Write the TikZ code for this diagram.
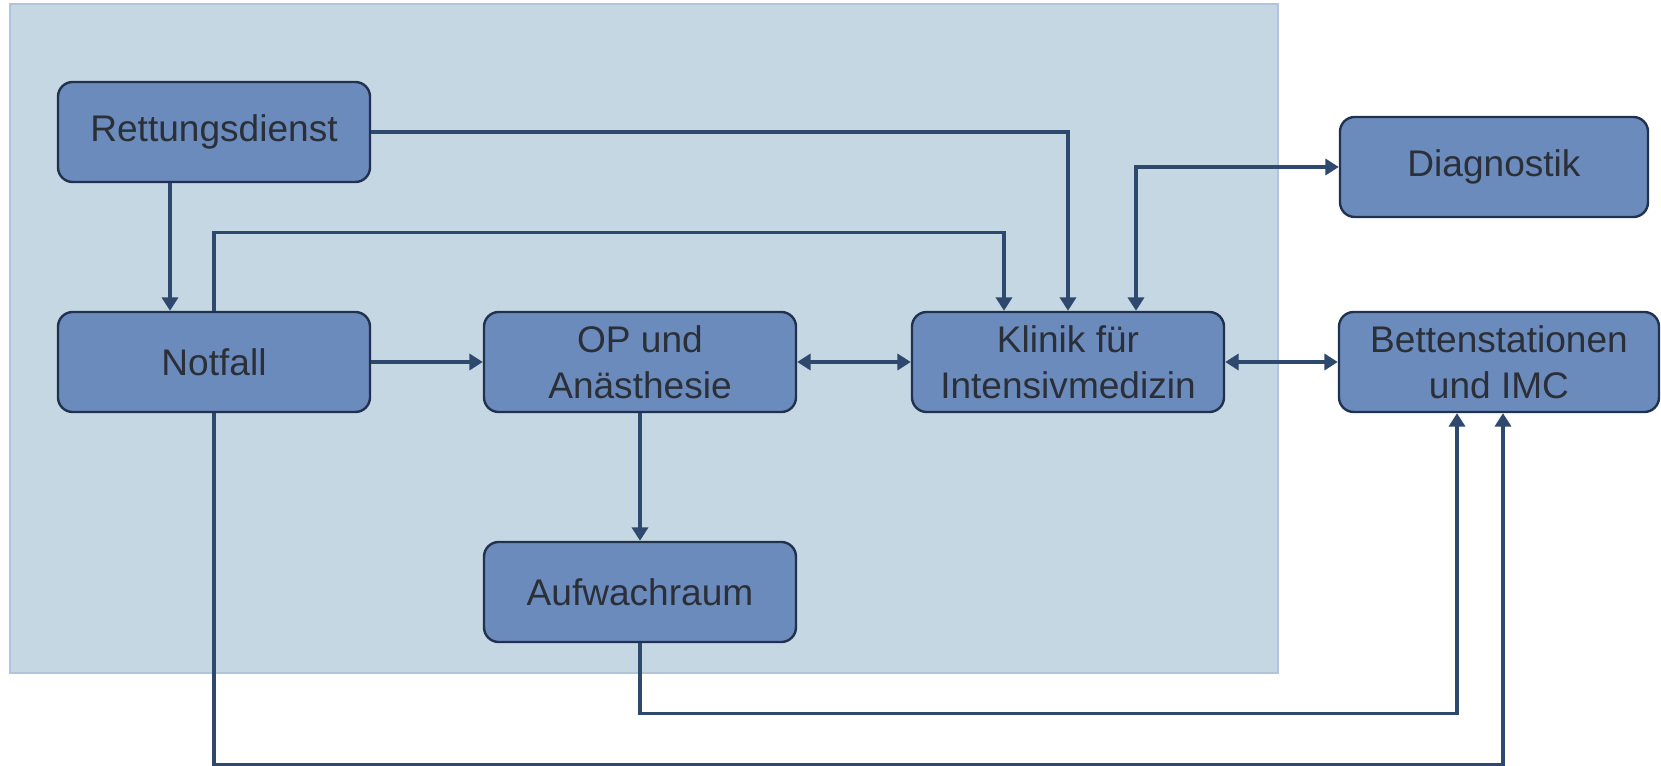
\documentclass[tikz,border=0pt]{standalone}
\usepackage{fontspec}
\setmainfont{Liberation Sans}
\usetikzlibrary{arrows.meta}
\usetikzlibrary{calc}

\definecolor{bgfill}{RGB}{197,215,227}
\definecolor{bgline}{RGB}{176,196,222}
\definecolor{boxfill}{RGB}{108,139,189}
\definecolor{boxline}{RGB}{33,50,78}
\definecolor{linkcol}{RGB}{47,72,110}
\definecolor{txtcol}{RGB}{43,47,56}

\tikzset{
  unit/.style={rounded corners=11pt, draw=boxline, line width=1.8pt, fill=boxfill,
    minimum width=234pt, minimum height=75pt, text=txtcol, align=center,
    font=\fontsize{27.8}{34.5}\selectfont, inner sep=0pt},
  link/.style={draw=linkcol, line width=2.4pt, -{Triangle[length=10pt,width=12pt]}},
  both/.style={link, {Triangle[length=10pt,width=12pt]}-{Triangle[length=10pt,width=12pt]}}
}

\begin{document}
\begin{tikzpicture}[x=0.75pt,y=0.75pt,yscale=-1,xscale=1]
\useasboundingbox (0,0) rectangle (1661,766);

%Shape: Rectangle [background]
\draw [fill=bgfill, draw=bgline, line width=1.5pt] (10,4) rectangle (1278,673);

% Text Node
\node [unit] (rett) at (214,132) {Rettungsdienst};
% Text Node
\node [unit] (notf) at (214,362) {Notfall};
% Text Node
\node [unit] (op) at (640,362) {OP und\\An\"asthesie};
% Text Node
\node [unit] (klin) at (1068,362) {Klinik f\"ur\\Intensivmedizin};
% Text Node
\node [unit] (aufw) at (640,592) {Aufwachraum};
% Text Node
\node [unit, minimum width=231pt] (diag) at (1494,167) {Diagnostik};
% Text Node
\node [unit, minimum width=240pt] (bett) at (1499,362) {Bettenstationen\\und IMC};

%Straight Lines
\draw [link] ([xshift=-33pt]rett.south) -- ([xshift=-33pt]notf.north);
\draw [link] (rett.east) -| (klin.north);
\draw [link] (notf.north) -- ++(0,-78) -| ([xshift=-48pt]klin.north);
\draw [both] (diag.west) -| ([xshift=51pt]klin.north);
\draw [link] (notf.east) -- (op.west);
\draw [both] (op.east) -- (klin.west);
\draw [both] (klin.east) -- (bett.west);
\draw [link] (op.south) -- (aufw.north);
\draw [link] (aufw.south) -- ++(0,70) -| ([xshift=-31.5pt]bett.south);
\draw [link] (notf.south) -- ++(0,351) -| ([xshift=3pt]bett.south);

\end{tikzpicture}
\end{document}
